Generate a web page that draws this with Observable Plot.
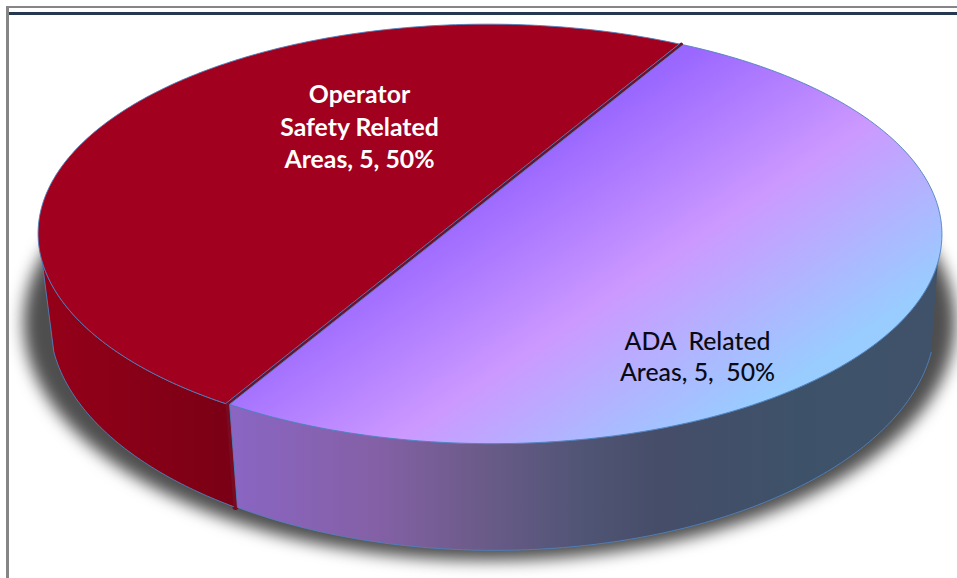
<!DOCTYPE html>
<html>
<head>
<meta charset="utf-8">
<script src="https://cdn.jsdelivr.net/npm/d3@7"></script>
<script src="https://cdn.jsdelivr.net/npm/@observablehq/plot@0.6"></script>
<style>
  html, body { margin: 0; padding: 0; background: #fff; overflow: hidden; }
  #stage { position: relative; width: 957px; height: 578px; }
  #stage svg { position: absolute; left: 0; top: 0; background: transparent; }
  .frame { position: absolute; left: 6px; top: 6px; right: 0; bottom: 0;
           border-left: 3px solid #858585; border-top: 2px solid #858585; pointer-events: none; }
  .frame::before { content: ""; position: absolute; left: 0; right: 0; top: 4px;
           border-top: 3px solid #25384f; }
</style>
</head>
<body>
<div id="stage"><div class="frame"></div></div>
<script>
// Chart data
const categories = ["ADA Related Areas", "Operator Safety Related Areas"];
const seriesValues = [5, 5];
const percentLabels = ["50%", "50%"];
const labelLines = [
  "ADA\u00a0\u00a0Related\nAreas,\u00a05,\u00a0\u00a050%",
  "Operator\nSafety\u00a0Related\nAreas,\u00a05,\u00a050%"
];

// Perspective of the tilted disc: each rim (top and bottom) maps the unit circle to the page
const tilt = 0.181;
const topRim = {cx: 489.5, y0: 195.5, a: 442.5, b: 202.5};
const bottomRim = {cx: 492, y0: 279, a: 433.5, b: 221.5};
const firstSliceAngle = (30 * Math.PI) / 180;
const silhouette = (108 * Math.PI) / 180;   // where the side wall's outline leaves the top rim

const project = (rim, phi, shift = [0, 0]) => {
  const u = Math.sin(phi), v = -Math.cos(phi), w = 1 - tilt * v;
  return {x: rim.cx + (rim.a * u) / w + shift[0], y: rim.y0 + (rim.b * v) / w + shift[1]};
};
const sweep = (rim, from, to, shift) => {
  const n = Math.max(2, Math.ceil(Math.abs(to - from) * 90));
  return d3.range(n + 1).map(i => project(rim, from + ((to - from) * i) / n, shift));
};

// Slice angles come straight from the values
const arcs = d3.pie().sort(null).startAngle(firstSliceAngle).endAngle(firstSliceAngle + 2 * Math.PI)(seriesValues);
const [ada, operator] = arcs;

// The two slices sit slightly apart, exposing a thin strip of the inner wall
const adaShift = [2, 0.4];
const operatorShift = [-2, -0.4];

const chordA = project(topRim, ada.startAngle), chordB = project(topRim, ada.endAngle);
const apex = (rim, shift) => ({x: rim.cx + shift[0], y: rim.y0 + shift[1]});
const topFace = (arc, shift) => [apex(topRim, shift), ...sweep(topRim, arc.startAngle, arc.endAngle, shift), apex(topRim, shift)];
const sideWall = (from, to, shift) => [...sweep(topRim, from, to, shift), ...sweep(bottomRim, to, from, shift)];

const adaWall = sideWall(silhouette, ada.endAngle, adaShift);
const operatorWall = sideWall(operator.startAngle, 2 * Math.PI - silhouette, operatorShift);
const innerWall = [chordB, project(bottomRim, ada.endAngle)];
const innerEdge = [chordA, chordB];

// Soft cast shadow below the disc
const shadowOutline = d3.range(0, 361, 2).map(deg => {
  const t = (deg * Math.PI) / 180;
  return {x: 489 + 466 * Math.cos(t), y: 322 + 238 * Math.sin(t)};
});

const rimBlue = "#4f81bd";
const textFont = "Lato, 'Open Sans', sans-serif";

const chart = Plot.plot({
  width: 957,
  height: 578,
  margin: 0,
  x: {domain: [0, 957], range: [0, 957], axis: null},
  y: {domain: [0, 578], range: [0, 578], axis: null},
  marks: [
    Plot.line(shadowOutline, {x: "x", y: "y", fill: "#4e4e4e", stroke: "none", imageFilter: "blur(8px)"}),

    // Side walls
    Plot.line(innerWall, {x: "x", y: "y", stroke: "#7a0a22", strokeWidth: 6}),
    Plot.line(operatorWall, {x: "x", y: "y", fill: "url(#wallOperator)", stroke: rimBlue, strokeWidth: 0.9}),
    Plot.line(adaWall, {x: "x", y: "y", fill: "url(#wallAda)", stroke: rimBlue, strokeWidth: 0.9}),

    // Top faces
    Plot.line(innerEdge, {x: "x", y: "y", stroke: "#6d1233", strokeWidth: 3.5}),
    Plot.line(topFace(operator, operatorShift), {x: "x", y: "y", fill: "#a1001f", stroke: rimBlue, strokeWidth: 0.9}),
    Plot.line(topFace(ada, adaShift), {x: "x", y: "y", fill: "url(#faceAda)", stroke: rimBlue, strokeWidth: 0.9}),

    // Data labels
    Plot.text([labelLines[0]], {
      x: [697], y: [355], text: d => d, fill: "#0a0a14",
      fontFamily: textFont, fontSize: 24.8, fontWeight: 500, lineHeight: 1.25
    }),
    Plot.text([labelLines[1]], {
      x: [359], y: [125], text: d => d, fill: "#ffffff",
      fontFamily: textFont, fontSize: 24.8, fontWeight: 700, lineHeight: 1.31
    })
  ]
});

// Gradients referenced by the fills above
const defs = d3.select(chart).insert("defs", ":first-child");
const gradient = (id, attrs, stops) => {
  const g = defs.append("linearGradient").attr("id", id).attr("gradientUnits", "userSpaceOnUse");
  Object.entries(attrs).forEach(([k, v]) => g.attr(k, v));
  stops.forEach(([o, c]) => g.append("stop").attr("offset", o).attr("stop-color", c));
};
gradient("faceAda", {x1: 640, y1: 80, x2: 825, y2: 356},
  [[0, "#9966ff"], [0.49, "#cc99ff"], [1, "#99ccff"]]);
gradient("wallAda", {x1: 235, y1: 0, x2: 940, y2: 0},
  [[0, "#8a65c2"], [0.2, "#8460a6"], [0.33, "#6e5c8c"], [0.5, "#4f5474"], [0.6, "#464d68"], [0.8, "#3d5269"], [1, "#40526a"]]);
gradient("wallOperator", {x1: 40, y1: 0, x2: 232, y2: 0},
  [[0, "#950019"], [1, "#7a0015"]]);

document.getElementById("stage").prepend(chart);
</script>
</body>
</html>
